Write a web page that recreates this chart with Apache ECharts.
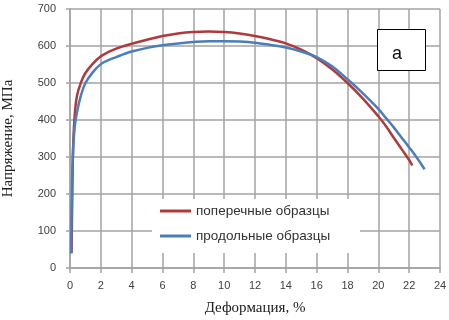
<!DOCTYPE html>
<html><head><meta charset="utf-8">
<script src="https://cdn.jsdelivr.net/npm/echarts@6/dist/echarts.min.js"></script>
<style>html,body{margin:0;padding:0;background:#fff}#c{width:449px;height:320px}</style>
</head><body><div id="c"></div>
<script>
const seriesNames = ['поперечные образцы', 'продольные образцы'];
const strainRed = [0.1,0.15,0.2,0.3,0.45,0.7,1,1.5,2,2.5,3,3.5,4,5,6,7,8,9,10,11,12,13,14,15,16,17,18,19,20,20.5,21,21.5,22,22.2];
const stressRed = [40,200,320,410,465,500,527,553,572,584,593,600,606,617,627,634,638,639,638,634,627,618,607,590,567,537,500,458,410,383,352,322,292,277];
const strainBlue = [0.07,0.12,0.2,0.3,0.45,0.7,1,1.5,2,2.5,3,3.5,4,5,6,7,8,9,10,11,12,13,14,15,16,17,18,19,20,20.5,21,21.5,22,22.5,23];
const stressBlue = [40,200,320,380,420,465,500,530,551,562,570,578,585,595,602,607,611,613,613,612,609,603,596,585,570,545,510,472,430,405,380,353,326,298,267];
const xTicks = {min: 0, max: 24, interval: 2};
const yTicks = {min: 0, max: 700, interval: 100};
const xName = 'Деформация, %';
const yName = 'Напряжение, МПа';
const panelLabel = 'а';

const pairs = (xs, ys) => xs.map((x, i) => [x, ys[i]]);
const chart = echarts.init(document.getElementById('c'), null, {renderer: 'canvas'});
const gridColor = '#a3a3a3';
const labelStyle = {color: '#404040', fontSize: 11, fontFamily: 'Liberation Sans, Arial, sans-serif'};
chart.setOption({
  animation: false,
  backgroundColor: '#fff',
  grid: {left: 70, right: 9, top: 9, bottom: 52, containLabel: false, outerBoundsMode: 'none'},
  xAxis: {
    type: 'value', min: xTicks.min, max: xTicks.max, interval: xTicks.interval,
    name: xName, nameLocation: 'middle', nameGap: 33,
    nameTextStyle: {fontFamily: 'Liberation Serif, Times New Roman, serif', fontSize: 15, color: '#222'},
    axisLine: {show: true, lineStyle: {color: gridColor, width: 1.5}},
    axisTick: {show: true, length: 5, lineStyle: {color: gridColor, width: 1.5}},
    splitLine: {show: true, lineStyle: {color: gridColor, width: 1.5}},
    axisLabel: Object.assign({margin: 12}, labelStyle)
  },
  yAxis: {
    type: 'value', min: yTicks.min, max: yTicks.max, interval: yTicks.interval,
    name: yName, nameLocation: 'middle', nameGap: 54,
    nameTextStyle: {fontFamily: 'Liberation Serif, Times New Roman, serif', fontSize: 15, color: '#222'},
    axisLine: {show: true, lineStyle: {color: gridColor, width: 1.5}},
    axisTick: {show: true, length: 4, lineStyle: {color: gridColor, width: 1.5}},
    splitLine: {show: true, lineStyle: {color: gridColor, width: 1.5}},
    axisLabel: Object.assign({margin: 14}, labelStyle)
  },
  legend: {
    orient: 'vertical', left: 155, top: 199, z: 10,
    icon: 'rect', itemWidth: 31, itemHeight: 3, itemGap: 11,
    textStyle: {color: '#333', fontSize: 13.5, fontFamily: 'Liberation Sans, Arial, sans-serif'},
    data: seriesNames
  },
  graphic: [
    {type: 'rect', z: 5, shape: {x: 152, y: 199, width: 208, height: 54}, style: {fill: '#fff'}},
    {type: 'rect', z: 5, shape: {x: 377.5, y: 29.5, width: 48, height: 41}, style: {fill: '#fff', stroke: '#000', lineWidth: 1}},
    {type: 'text', z: 6, style: {x: 397, y: 54, text: panelLabel, fill: '#111', fontSize: 18, fontFamily: 'Liberation Sans, Arial, sans-serif', textAlign: 'center', textVerticalAlign: 'middle'}}
  ],
  series: [
    {name: seriesNames[0], type: 'line', data: pairs(strainRed, stressRed), smooth: 0.4, showSymbol: false,
     lineStyle: {color: '#b0393b', width: 2.5}, itemStyle: {color: '#b0393b'}},
    {name: seriesNames[1], type: 'line', data: pairs(strainBlue, stressBlue), smooth: 0.4, showSymbol: false,
     lineStyle: {color: '#4a7ebb', width: 2.5}, itemStyle: {color: '#4a7ebb'}}
  ]
});
</script></body></html>
